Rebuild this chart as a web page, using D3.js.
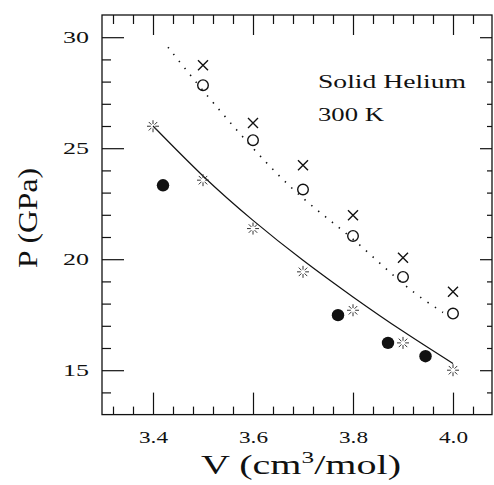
<!DOCTYPE html>
<html lang="en">
<head>
  <meta charset="UTF-8">
  <style>
    body, html { margin: 0; padding: 0; background: #fff; }
    svg { display: block; }
    text { font-family: "Liberation Serif", serif; fill: #111; }
  </style>
</head>
<body>
  <svg id="svg" width="494" height="485"></svg>

  <script src="https://d3js.org/d3.v7.min.js"></script>
  <script>
    // values
    const vGrid = [3.5, 3.6, 3.7, 3.8, 3.9, 4.0]
    const pCross = [28.74, 26.13, 24.23, 21.98, 20.06, 18.53]
    const pOpen = [27.84, 25.36, 23.14, 21.05, 19.20, 17.55]

    const vStar = [3.4, 3.5, 3.6, 3.7, 3.8, 3.9, 4.0]
    const pStar = [25.99, 23.56, 21.38, 19.43, 17.70, 16.23, 15.0]

    const vFilled = [3.42, 3.77, 3.87, 3.945]
    const pFilled = [23.33, 17.48, 16.23, 15.63]

    // solid fit curve
    const vFit = [3.4, 3.5, 3.6, 3.7, 3.8, 3.9, 4.0]
    const pFit = [26.0, 23.75, 21.75, 19.95, 18.3, 16.75, 15.3]

    // dotted curve
    const vDot = [3.43, 3.5, 3.6, 3.7, 3.8, 3.9, 3.98]
    const pDot = [29.55, 27.6, 25.0, 22.75, 20.9, 18.9, 17.6]

    const xMajor = [3.4, 3.6, 3.8, 4.0]
    const xMinor = [3.32, 3.36, 3.44, 3.48, 3.52, 3.56, 3.64, 3.68, 3.72, 3.76, 3.84, 3.88, 3.92, 3.96, 4.04]
    const yMajor = [15, 20, 25, 30]
    const yMinor = [14, 16, 17, 18, 19, 21, 22, 23, 24, 26, 27, 28, 29]

    const m = { left: 102, right: 492, top: 15, bottom: 414.6 }

    const x = d3.scaleLinear().domain([3.298, 4.078]).range([m.left, m.right])
    const y = d3.scaleLinear().domain([13, 31]).range([m.bottom, m.top])

    const svg = d3.select('#svg')
    const ink = '#111'
    const serif = '"Liberation Serif", serif'

    // axes: ticks all point inward
    function styleAxis(g) {
      g.select('.domain').remove()
      g.selectAll('line').attr('stroke', ink).attr('stroke-width', 1.2)
    }

    // left
    svg.append('g')
      .attr('transform', `translate(${m.left},0)`)
      .call(d3.axisLeft(y).tickValues(yMajor).tickSize(-22).tickPadding(13).tickFormat(d3.format('d')))
      .call(styleAxis)
      .selectAll('text')
      .attr('font-family', serif)
      .attr('font-size', 17.5)
      .attr('textLength', 26)
      .attr('lengthAdjust', 'spacingAndGlyphs')
      .attr('fill', ink)
    svg.append('g')
      .attr('transform', `translate(${m.left},0)`)
      .call(d3.axisLeft(y).tickValues(yMinor).tickSize(-9).tickFormat(''))
      .call(styleAxis)

    // right
    svg.append('g')
      .attr('transform', `translate(${m.right},0)`)
      .call(d3.axisRight(y).tickValues(yMajor).tickSize(-12).tickFormat(''))
      .call(styleAxis)
    svg.append('g')
      .attr('transform', `translate(${m.right},0)`)
      .call(d3.axisRight(y).tickValues(yMinor).tickSize(-5).tickFormat(''))
      .call(styleAxis)

    // bottom
    const bAxis = svg.append('g')
      .attr('transform', `translate(0,${m.bottom})`)
      .call(d3.axisBottom(x).tickValues(xMajor).tickSize(-22).tickPadding(16).tickFormat(d3.format('.1f')))
      .call(styleAxis)
    bAxis.selectAll('text')
      .attr('font-family', serif)
      .attr('font-size', 17.5)
      .attr('textLength', 29)
      .attr('lengthAdjust', 'spacingAndGlyphs')
      .attr('fill', ink)
    svg.append('g')
      .attr('transform', `translate(0,${m.bottom})`)
      .call(d3.axisBottom(x).tickValues(xMinor).tickSize(-8).tickFormat(''))
      .call(styleAxis)

    // top
    svg.append('g')
      .attr('transform', `translate(0,${m.top})`)
      .call(d3.axisTop(x).tickValues(xMajor).tickSize(-20).tickFormat(''))
      .call(styleAxis)
    svg.append('g')
      .attr('transform', `translate(0,${m.top})`)
      .call(d3.axisTop(x).tickValues(xMinor).tickSize(-9).tickFormat(''))
      .call(styleAxis)

    // frame
    svg.append('rect')
      .attr('x', m.left).attr('y', m.top)
      .attr('width', m.right - m.left).attr('height', m.bottom - m.top)
      .attr('fill', 'none').attr('stroke', ink).attr('stroke-width', 1.3)

    // axis titles
    const xTitle = svg.append('text')
      .attr('x', 301).attr('y', 474)
      .attr('text-anchor', 'middle')
      .attr('font-size', 27)
      .attr('textLength', 200)
      .attr('lengthAdjust', 'spacingAndGlyphs')
    xTitle.append('tspan').text('V (cm')
    xTitle.append('tspan').attr('font-size', 17).attr('dy', -11).text('3')
    xTitle.append('tspan').attr('dy', 11).text('/mol)')

    svg.append('text')
      .attr('transform', 'translate(37,218) rotate(-90)')
      .attr('text-anchor', 'middle')
      .attr('font-size', 27)
      .attr('textLength', 100)
      .attr('lengthAdjust', 'spacingAndGlyphs')
      .text('P (GPa)')

    // annotation
    svg.append('text')
      .attr('x', 318).attr('y', 88)
      .attr('font-size', 18.5)
      .attr('textLength', 148)
      .attr('lengthAdjust', 'spacingAndGlyphs')
      .text('Solid Helium')
    svg.append('text')
      .attr('x', 318).attr('y', 121)
      .attr('font-size', 18.5)
      .attr('textLength', 66)
      .attr('lengthAdjust', 'spacingAndGlyphs')
      .text('300 K')

    // curves
    const fitLine = d3.line().x(d => x(d[0])).y(d => y(d[1])).curve(d3.curveNatural)
    svg.append('path')
      .datum(vFit.map((v, i) => [v, pFit[i]]))
      .attr('d', fitLine)
      .attr('fill', 'none').attr('stroke', ink).attr('stroke-width', 1.2)
    svg.append('path')
      .datum(vDot.map((v, i) => [v, pDot[i]]))
      .attr('d', fitLine)
      .attr('fill', 'none').attr('stroke', ink).attr('stroke-width', 1.6)
      .attr('stroke-dasharray', '1.4 7.5')

    // crosses
    svg.append('g').selectAll('path')
      .data(vGrid.map((v, i) => [v, pCross[i]]))
      .enter()
      .append('path')
      .attr('d', d => {
        const cx = x(d[0]), cy = y(d[1]), r = 5
        return `M${cx - r},${cy - r}L${cx + r},${cy + r}M${cx - r},${cy + r}L${cx + r},${cy - r}`
      })
      .attr('stroke', ink).attr('stroke-width', 1.4).attr('fill', 'none')

    // open circles
    svg.append('g').selectAll('circle')
      .data(vGrid.map((v, i) => [v, pOpen[i]]))
      .enter()
      .append('circle')
      .attr('cx', d => x(d[0])).attr('cy', d => y(d[1])).attr('r', 5.3)
      .attr('fill', 'none').attr('stroke', ink).attr('stroke-width', 1.4)

    // starbursts
    const rays = d3.range(8).map(i => i * Math.PI / 4)
    svg.append('g').selectAll('path')
      .data(vStar.map((v, i) => [v, pStar[i]]))
      .enter()
      .append('path')
      .attr('d', d => {
        const cx = x(d[0]), cy = y(d[1])
        return rays.map(a => `M${cx + 2.2 * Math.cos(a)},${cy + 2.2 * Math.sin(a)}L${cx + 6 * Math.cos(a)},${cy + 6 * Math.sin(a)}`).join('')
      })
      .attr('stroke', '#333').attr('stroke-width', 1).attr('fill', 'none')

    // filled circles
    svg.append('g').selectAll('circle')
      .data(vFilled.map((v, i) => [v, pFilled[i]]))
      .enter()
      .append('circle')
      .attr('cx', d => x(d[0])).attr('cy', d => y(d[1])).attr('r', 6.2)
      .attr('fill', ink)
  </script>
</body>
</html>
